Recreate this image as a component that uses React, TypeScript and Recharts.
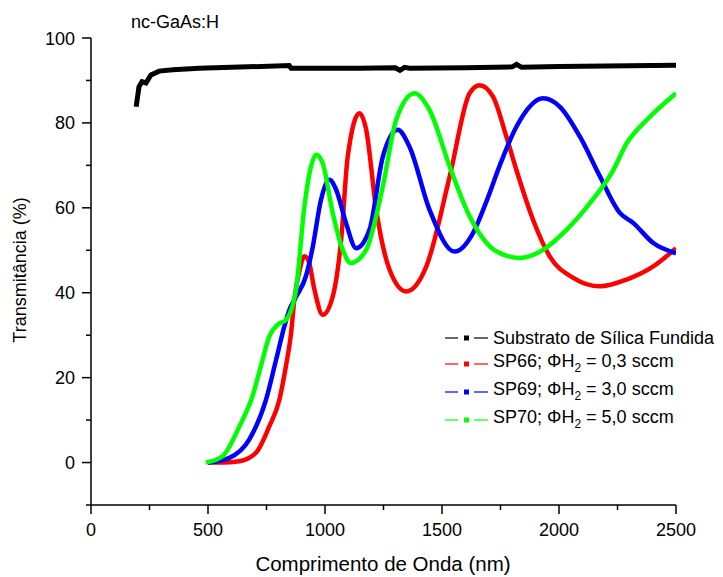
import React from "react";
import { LineChart, Line, XAxis, YAxis } from "recharts";

// transmittance spectra, wavelength in nm, T in %
const substratoNm = [193, 205, 218, 235, 256, 291, 350, 462, 600, 847, 855, 1000, 1147, 1300, 1320, 1340, 1361, 1600, 1800, 1819, 1840, 2000, 2200, 2500];
const substratoT = [83.8, 88.5, 89.7, 89.4, 91.3, 92.2, 92.5, 92.9, 93.1, 93.5, 92.9, 92.9, 92.9, 93.0, 92.4, 93.1, 92.9, 93.0, 93.2, 93.8, 93.1, 93.3, 93.4, 93.6];

const sp66Nm = [500, 560, 634, 705, 762, 805, 833, 855, 869, 890, 912, 930, 955, 990, 1033, 1069, 1097, 1147, 1176, 1219, 1276, 1347, 1433, 1533, 1618, 1661, 1718, 1775, 1818, 1889, 1961, 2061, 2175, 2289, 2403, 2500];
const sp66T = [0, 0, 0.3, 2.3, 8.5, 14.8, 22.7, 30.5, 38.4, 45, 48.6, 47.5, 40.7, 34.8, 39.1, 52.5, 72, 82.3, 78.4, 59.5, 45.4, 40.3, 46.2, 67.4, 87, 88.9, 86.2, 76.8, 68.9, 57.2, 48.5, 43.5, 41.5, 43.1, 46.2, 50.5];

const sp69Nm = [500, 591, 676, 748, 791, 826, 848, 876, 919, 947, 983, 1019, 1048, 1090, 1133, 1190, 1247, 1311, 1361, 1447, 1554, 1632, 1690, 1747, 1818, 1932, 2004, 2089, 2175, 2260, 2318, 2403, 2500];
const sp69T = [0, 1.1, 5.4, 14.8, 24.2, 32, 36, 39, 44, 50.6, 61.9, 66.6, 64.2, 56.4, 50.5, 54.8, 72, 78.4, 74.4, 59.5, 49.7, 54, 61.5, 70, 79.1, 85.8, 83.8, 76.8, 67.4, 58.8, 56.4, 51.7, 49.3];

const sp70Nm = [491, 562, 634, 690, 726, 762, 798, 833, 876, 912, 940, 962, 990, 1033, 1076, 1110, 1176, 1247, 1304, 1383, 1447, 1533, 1618, 1704, 1789, 1832, 1932, 2032, 2132, 2232, 2289, 2375, 2500];
const sp70T = [0, 1.5, 8.5, 15.6, 22.7, 29.7, 32.5, 33.6, 40.7, 60.3, 69.7, 72.5, 70.5, 58.8, 50.1, 47, 50.1, 65, 80.7, 87, 83, 69.7, 58, 50.9, 48.5, 48.2, 50.1, 54.8, 61.1, 68.9, 75.2, 80.7, 87];

const xTicks = [0, 250, 500, 750, 1000, 1250, 1500, 1750, 2000, 2250, 2500];
const yTicks = [-10, 0, 10, 20, 30, 40, 50, 60, 70, 80, 90, 100];

const toPoints = (nm: number[], t: number[]) => nm.map((x, i) => ({ nm: x, t: t[i] }));

const font = '"Liberation Sans", Arial, sans-serif';

const XTick = (props: any) => {
  const { x, y, payload } = props;
  const major = payload.value % 500 === 0;
  return (
    <g>
      <line x1={x} x2={x} y1={y} y2={y + (major ? 9 : 5)} stroke="#000" strokeWidth={1.5} />
      {major && (
        <text x={x} y={y + 31} textAnchor="middle" fontSize={18} fontFamily={font} fill="#000">
          {payload.value}
        </text>
      )}
    </g>
  );
};

const YTick = (props: any) => {
  const { x, y, payload } = props;
  const major = payload.value >= 0 && payload.value % 20 === 0;
  return (
    <g>
      <line x1={x - (major ? 9 : 5)} x2={x} y1={y} y2={y} stroke="#000" strokeWidth={1.5} />
      {major && (
        <text x={x - 16} y={y + 6.5} textAnchor="end" fontSize={18} fontFamily={font} fill="#000">
          {payload.value}
        </text>
      )}
    </g>
  );
};

const sub = { fontSize: 12, verticalAlign: -5 };

const legendRows = [
  { color: "#000000", top: 338, content: <>Substrato de Sílica Fundida</> },
  { color: "#ff0000", top: 364, content: <>SP66; ΦH<sub style={sub}>2</sub> = 0,3 sccm</> },
  { color: "#0000ff", top: 392, content: <>SP69; ΦH<sub style={sub}>2</sub> = 3,0 sccm</> },
  { color: "#00ff00", top: 420, content: <>SP70; ΦH<sub style={sub}>2</sub> = 5,0 sccm</> },
];

export default function App() {
  return (
    <div style={{ position: "absolute", left: 0, top: 0, width: 723, height: 577, background: "#fff", fontFamily: font, overflow: "hidden" }}>
      <LineChart width={723} height={577} margin={{ top: 38, right: 47, bottom: 32, left: 31 }}>
        <XAxis
          type="number"
          dataKey="nm"
          domain={[0, 2500]}
          ticks={xTicks}
          interval={0}
          height={40}
          allowDataOverflow
          axisLine={{ stroke: "#000", strokeWidth: 1.5 }}
          tickLine={false}
          tickSize={0}
          tickMargin={0}
          tick={<XTick />}
        />
        <YAxis
          type="number"
          dataKey="t"
          domain={[-10, 100]}
          ticks={yTicks}
          interval={0}
          width={60}
          allowDataOverflow
          axisLine={{ stroke: "#000", strokeWidth: 1.5 }}
          tickLine={false}
          tickSize={0}
          tickMargin={0}
          tick={<YTick />}
        />
        <Line data={toPoints(sp66Nm, sp66T)} dataKey="t" type="monotone" stroke="#ff0000" strokeWidth={4.5} dot={false} isAnimationActive={false} />
        <Line data={toPoints(sp69Nm, sp69T)} dataKey="t" type="monotone" stroke="#0000ff" strokeWidth={4.5} dot={false} isAnimationActive={false} />
        <Line data={toPoints(sp70Nm, sp70T)} dataKey="t" type="monotone" stroke="#00ff00" strokeWidth={4.5} dot={false} isAnimationActive={false} />
        <Line data={toPoints(substratoNm, substratoT)} dataKey="t" type="linear" stroke="#000000" strokeWidth={5} dot={false} isAnimationActive={false} />
      </LineChart>

      <div style={{ position: "absolute", left: 131, top: 12, fontSize: 18, color: "#000" }}>nc-GaAs:H</div>

      <div style={{ position: "absolute", left: 0, top: 552, width: 766, textAlign: "center", fontSize: 20.5, color: "#000" }}>
        Comprimento de Onda (nm)
      </div>

      <div
        style={{
          position: "absolute", left: 20, top: 270, width: 200, marginLeft: -100, marginTop: -11,
          textAlign: "center", fontSize: 18, lineHeight: "22px", color: "#000",
          transform: "rotate(-90deg)", whiteSpace: "nowrap",
        }}
      >
        Transmitância (%)
      </div>

      {legendRows.map((r, i) => (
        <div key={i} style={{ position: "absolute", left: 445, top: r.top - 11, height: 22, display: "flex", alignItems: "center", whiteSpace: "nowrap", fontSize: 18, color: "#000" }}>
          <svg width={44} height={10} style={{ marginRight: 4 }}>
            <line x1={0} x2={13} y1={5} y2={5} stroke={r.color} strokeWidth={1.2} />
            <rect x={19} y={2.5} width={5} height={5} fill={r.color} />
            <line x1={29} x2={43} y1={5} y2={5} stroke={r.color} strokeWidth={1.2} />
          </svg>
          <span style={{ lineHeight: "22px" }}>{r.content}</span>
        </div>
      ))}
    </div>
  );
}
